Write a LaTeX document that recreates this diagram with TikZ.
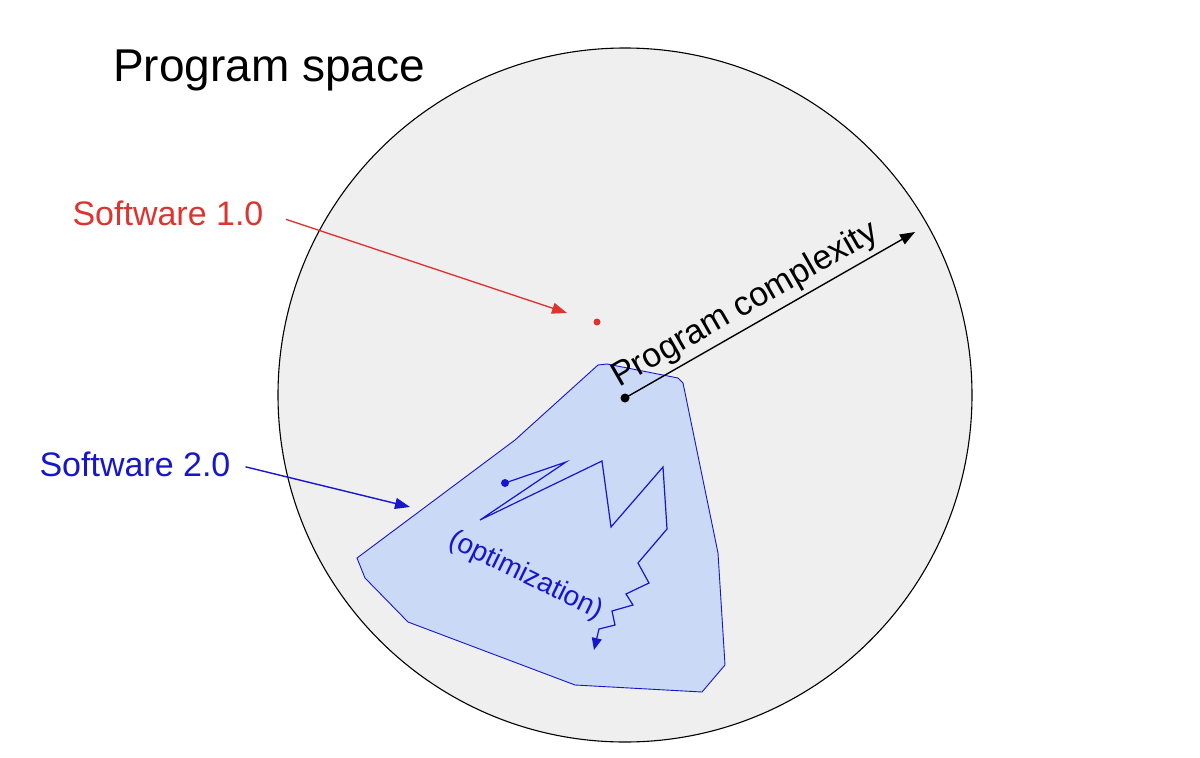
\documentclass[tikz,border=0pt]{standalone}
\usepackage{fontspec}
\setmainfont{Liberation Sans}
\usetikzlibrary{arrows.meta}

\definecolor{swred}{RGB}{222,52,48}
\definecolor{swblue}{RGB}{22,22,205}
\definecolor{spacegray}{RGB}{239,239,239}
\definecolor{regionblue}{RGB}{201,217,246}

\begin{document}
\begin{tikzpicture}[x=1pt, y=-1pt,
  dot/.style={circle, fill, inner sep=0pt, minimum size=#1},
  pointer/.style={-{Triangle[length=15pt,width=11pt]}, line width=1.4pt},
  big/.style={font=\fontsize{46}{50}\selectfont},
  label/.style={font=\fontsize{34}{38}\selectfont}]
\useasboundingbox (0,0) rectangle (1200,758);
% program space
\draw[fill=spacegray, line width=1.1pt] (625,395) circle (347pt);
\node[big] (title) at (269,70) {Program space};
% software 2.0 region
\draw[swblue, fill=regionblue, line width=0.9pt]
  (598,365) -- (607,364) -- (678,378) -- (683,383) -- (718,553) -- (725,665)
  -- (702,692) -- (575,685) -- (408,622) -- (365,578) -- (357,558)
  -- (515,440) -- cycle;
% complexity
\node[dot=9pt] (origin) at (625,398) {};
\coordinate (far) at (915,232);
\draw[pointer] (origin.center) -- (far)
  node[label, pos=0.45, sloped, above=1pt] (cplx) {Program complexity};
% software 1.0
\node[dot=7pt, swred] (sw1dot) at (597,322) {};
\node[label, swred] (sw1) at (168,213) {Software 1.0};
\coordinate (sw1tip) at (567,313);
\draw[pointer, swred, shorten <=20pt] (sw1.east) -- (sw1tip);
% software 2.0
\node[label, swblue] (sw2) at (135,464) {Software 2.0};
\coordinate (sw2tip) at (410,507);
\draw[pointer, swblue, shorten <=12pt] (sw2.east) -- (sw2tip);
% optimization path
\node[dot=8pt, swblue] (start) at (505,483) {};
\draw[swblue, line width=1.2pt, -{Triangle[length=12pt,width=10pt]}]
  (start.center) -- (566,462) -- (480,520) -- (602,461) -- (611,527)
  -- (663,467) -- (667,529) -- (638,563) -- (649,583) -- (626,594)
  -- (633,605) -- (612,611) -- (615,625) -- (599,629) -- (594,650);
\node[font=\fontsize{28}{32}\selectfont, swblue, rotate=-26] (opt) at (526,576) {(optimization)};
\end{tikzpicture}
\end{document}
